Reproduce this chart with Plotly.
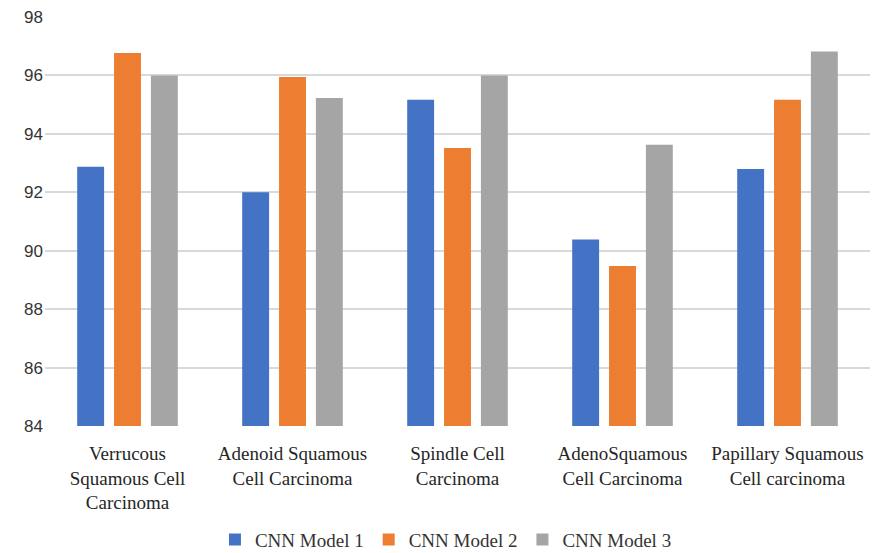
import plotly.graph_objects as go

categories = ["Verrucous<br>Squamous Cell<br>Carcinoma",
              "Adenoid Squamous<br>Cell Carcinoma",
              "Spindle Cell<br>Carcinoma",
              "AdenoSquamous<br>Cell Carcinoma",
              "Papillary Squamous<br>Cell carcinoma"]
series_names = ["CNN Model 1", "CNN Model 2", "CNN Model 3"]
model1 = [92.87, 92.0, 95.17, 90.38, 92.8]
model2 = [96.77, 95.95, 93.52, 89.48, 95.17]
model3 = [96.0, 95.23, 96.0, 93.63, 96.82]
colors = ["#4472C4", "#ED7D31", "#A5A5A5"]
y_ticks = [84, 86, 88, 90, 92, 94, 96, 98]

fig = go.Figure()
for name, vals, c in zip(series_names, [model1, model2, model3], colors):
    fig.add_trace(go.Bar(x=categories, y=vals, name=name, marker=dict(color=c, line=dict(width=0))))

fig.update_layout(
    width=882, height=553,
    margin=dict(l=45, r=12, t=17, b=127, autoexpand=False),
    paper_bgcolor="white", plot_bgcolor="white",
    barmode="group", bargap=0.33, bargroupgap=0.27,
    font=dict(family="Liberation Serif", color="#262626"),
    xaxis=dict(tickfont=dict(family="Liberation Serif", size=19, color="#262626"),
               showline=False, ticks="", showgrid=False, ticklabelstandoff=14,
               automargin=False),
    yaxis=dict(range=[84, 98], tickvals=y_ticks, showgrid=True, gridcolor="#D9D9D9",
               gridwidth=1.5, zeroline=False, showline=False, ticks="",
               tickfont=dict(family="Liberation Sans", size=17, color="#333333"),
               ticklabelstandoff=1, automargin=False),
    legend=dict(orientation="h", x=0.486, xanchor="center", yref="container",
                y=0.024, yanchor="middle",
                font=dict(family="Liberation Serif", size=19, color="#333333"),
                itemwidth=30, traceorder="normal"),
)
fig.write_html("out.html")
